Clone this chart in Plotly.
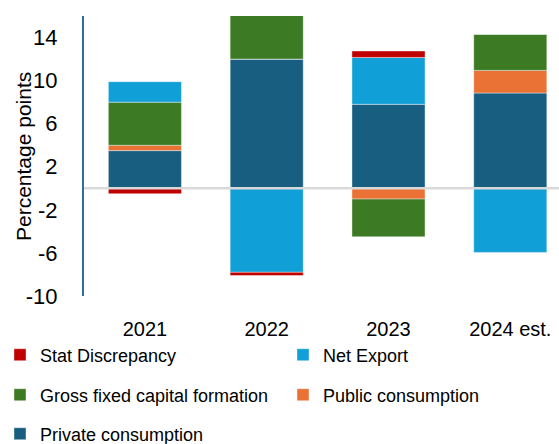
import plotly.graph_objects as go

# Contributions to GDP growth, percentage points
categories = ["2021", "2022", "2023", "2024 est."]
private_consumption = [3.5, 12.0, 7.8, 8.85]
public_consumption = [0.5, 0.0, -1.0, 2.1]
gross_fixed_capital = [4.0, 4.6, -3.5, 3.35]
net_export = [1.9, -7.8, 4.35, -5.95]
stat_discrepancy = [-0.5, -0.3, 0.6, 0.0]

y_ticks = [-10, -6, -2, 2, 6, 10, 14]
y_tick_text = [str(v) for v in y_ticks]

FONT = "Liberation Sans, Arial, sans-serif"
W, H = 559, 444
ML, MR, MT, MB = 84, 0, 16, 148
PLOT_W = W - ML - MR
PLOT_H = H - MT - MB

# name, values, colour, legend id, (column px offset, row centre px)
series = [
    ("Private consumption", private_consumption, "#175E80", "legend5", (0, 434)),
    ("Public consumption", public_consumption, "#E97234", "legend4", (283, 395)),
    ("Gross fixed capital formation", gross_fixed_capital, "#3C7B24", "legend3", (0, 395)),
    ("Net Export", net_export, "#109FD6", "legend2", (283, 355)),
    ("Stat Discrepancy", stat_discrepancy, "#C00000", "legend", (0, 355)),
]

fig = go.Figure()
for name, vals, color, leg, _ in series:
    fig.add_trace(go.Bar(
        x=categories, y=vals, name=name, legend=leg,
        marker=dict(color=color, line=dict(color="rgba(255,255,255,0.4)", width=1)),
    ))

# zero reference line drawn over the bars
fig.add_shape(type="line", xref="paper", yref="y", x0=0, x1=1, y0=0, y1=0,
              line=dict(color="#D9D9D9", width=2.5), layer="above")

# vertical axis title
fig.add_annotation(
    text="Percentage points", textangle=-90, showarrow=False,
    xref="paper", yref="paper",
    x=(23 - ML) / PLOT_W, y=(H - MB - 157) / PLOT_H,
    xanchor="center", yanchor="middle",
    font=dict(family=FONT, size=21, color="#000000"),
)

def legend_cell(dx_px, y_px):
    # one legend entry per cell, placed below the plot area in paper coordinates
    return dict(
        orientation="h", xref="paper", yref="paper",
        x=(dx_px - ML) / PLOT_W, xanchor="left",
        y=(H - MB - y_px) / PLOT_H, yanchor="middle",
        font=dict(family=FONT, size=18, color="#000000"),
        bgcolor="rgba(0,0,0,0)", borderwidth=0,
    )

legends = {leg: legend_cell(*pos) for _, _, _, leg, pos in series}

fig.update_layout(
    width=W, height=H,
    barmode="relative", bargap=0.4,
    paper_bgcolor="white", plot_bgcolor="white",
    margin=dict(l=ML, r=MR, t=MT, b=MB, autoexpand=False),
    font=dict(family=FONT, color="#000000"),
    showlegend=True,
    **legends,
    xaxis=dict(
        range=[-0.5, 3.4], showline=False, showgrid=False, zeroline=False,
        ticks="", tickfont=dict(family=FONT, size=20, color="#000000"),
        ticklabelstandoff=19, automargin=False,
    ),
    yaxis=dict(
        range=[-10, 16], tickvals=y_ticks, ticktext=y_tick_text,
        showgrid=False, zeroline=False,
        showline=True, linecolor="#2E6E9E", linewidth=2,
        ticks="", tickfont=dict(family=FONT, size=22, color="#000000"),
        ticklabelstandoff=20, automargin=False,
    ),
)

fig.write_html("out.html")
